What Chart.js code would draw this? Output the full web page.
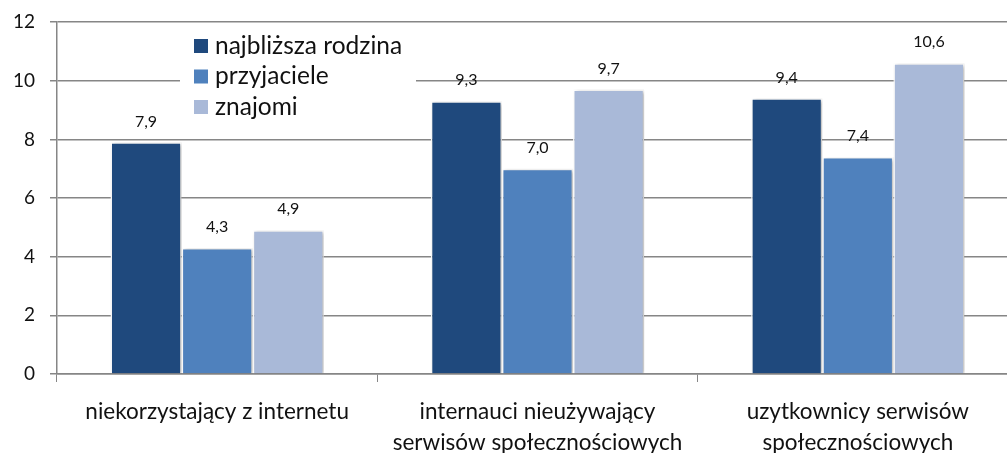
<!DOCTYPE html>
<html><head><meta charset="utf-8">
<script src="https://cdn.jsdelivr.net/npm/chart.js@4"></script>
<style>html,body{margin:0;padding:0;background:#fff;overflow:hidden;width:1007px;height:453px}#wrap{width:1018px;height:453px}</style>
</head><body><div id="wrap"><canvas id="c"></canvas></div>
<script>
const categories = [["niekorzystający z internetu"], ["internauci nieużywający", "serwisów społecznościowych"], ["uzytkownicy serwisów", "społecznościowych"]];
const seriesNames = ["najbliższa rodzina", "przyjaciele", "znajomi"];
const rodzina = [7.9, 9.3, 9.4];
const przyjaciele = [4.3, 7.0, 7.4];
const znajomi = [4.9, 9.7, 10.6];
const yTicks = [0, 2, 4, 6, 8, 10, 12];
const colors = ["#1F497D", "#4F81BD", "#A9B9D8"];
const FONT = "Lato, 'Open Sans', sans-serif";

const shadowPlugin = {
  id: 'shadow',
  beforeDatasetsDraw(chart) {
    const ctx = chart.ctx; ctx.save();
    ctx.shadowColor = 'rgba(0,0,0,0.28)'; ctx.shadowBlur = 4; ctx.shadowOffsetX = 2; ctx.shadowOffsetY = 1;
  },
  afterDatasetsDraw(chart) {
    const ctx = chart.ctx; ctx.restore();
    // data labels
    ctx.save();
    ctx.font = "16px " + FONT; ctx.fillStyle = '#111'; ctx.textAlign = 'center'; ctx.textBaseline = 'middle';
    chart.data.datasets.forEach((ds, i) => {
      chart.getDatasetMeta(i).data.forEach((bar, j) => {
        ctx.fillText(ds.data[j].toFixed(1).replace('.', ','), bar.x, bar.y - 21);
      });
    });
    ctx.restore();
    // legend
    const ca = chart.chartArea;
    ctx.save();
    ctx.fillStyle = '#fff';
    ctx.fillRect(180, ca.top + 3, 236, 98);
    ctx.font = "24.5px " + FONT; ctx.textBaseline = 'middle'; ctx.textAlign = 'left';
    chart.data.datasets.forEach((ds, i) => {
      const y = 46 + i * 30.5;
      ctx.fillStyle = ds.backgroundColor;
      ctx.fillRect(194, y - 7, 14, 14);
      ctx.fillStyle = '#111';
      ctx.fillText(ds.label, 215, y);
    });
    ctx.restore();
  }
};

new Chart(document.getElementById('c'), {
  type: 'bar',
  data: {
    labels: categories,
    datasets: [
      { label: seriesNames[0], data: rodzina, backgroundColor: colors[0] },
      { label: seriesNames[1], data: przyjaciele, backgroundColor: colors[1] },
      { label: seriesNames[2], data: znajomi, backgroundColor: colors[2] }
    ]
  },
  options: {
    responsive: true, maintainAspectRatio: false, animation: false,
    layout: { padding: { top: 5, right: 0, left: 0, bottom: 0 } },
    plugins: { legend: { display: false }, tooltip: { enabled: false } },
    datasets: { bar: { categoryPercentage: 0.666, barPercentage: 1, borderColor: '#fff', borderWidth: 1.5, borderSkipped: 'start' } },
    scales: {
      x: {
        afterFit(s) { s.height = 79; },
        grid: { display: true, drawOnChartArea: false, drawTicks: true, tickLength: 8, color: '#868686', offset: true },
        border: { display: true, color: '#868686', width: 1.5 },
        ticks: { color: '#111', font: { family: FONT, size: 22.5, lineHeight: 1.38 }, padding: 14, maxRotation: 0, autoSkip: false }
      },
      y: {
        min: 0, max: 12,
        afterFit(s) { s.width = 57; },
        afterBuildTicks(s) { s.ticks = yTicks.map(v => ({ value: v })); },
        grid: { color: '#868686', lineWidth: 1.5, tickLength: 7 },
        border: { display: true, color: '#868686', width: 1.5 },
        ticks: { color: '#111', font: { family: FONT, size: 19, lineHeight: 0.75 }, padding: 15 }
      }
    }
  },
  plugins: [shadowPlugin]
});
</script></body></html>
